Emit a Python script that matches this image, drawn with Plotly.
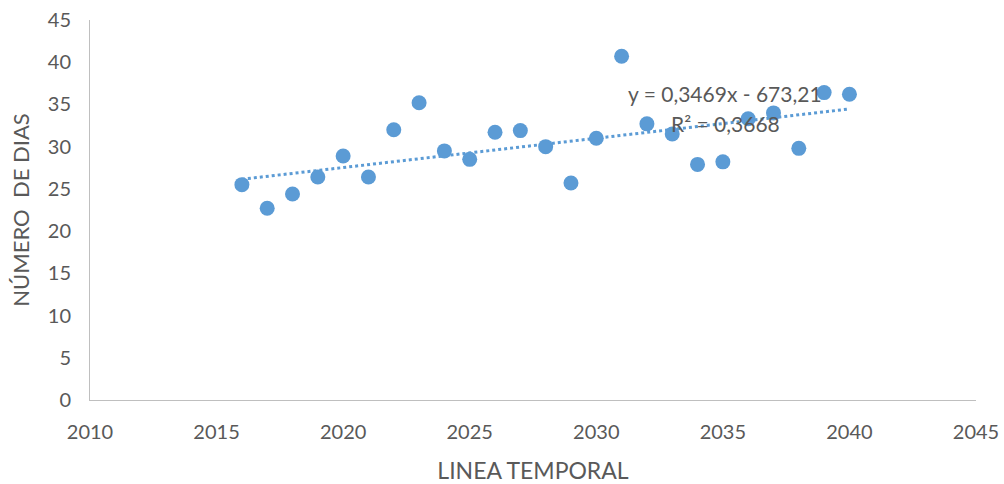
import plotly.graph_objects as go

# Annual values
years = [2016, 2017, 2018, 2019, 2020, 2021, 2022, 2023, 2024, 2025, 2026, 2027, 2028,
         2029, 2030, 2031, 2032, 2033, 2034, 2035, 2036, 2037, 2038, 2039, 2040]
dias = [25.5, 22.7, 24.4, 26.4, 28.9, 26.4, 32.0, 35.2, 29.5, 28.5, 31.7, 31.9, 30.0,
        25.7, 31.0, 40.7, 32.7, 31.5, 27.9, 28.2, 33.3, 34.0, 29.8, 36.4, 36.2]

# Linear trend coefficients
slope = 0.3469
intercept = -673.21
r2 = 0.3668

x_ticks = [2010, 2015, 2020, 2025, 2030, 2035, 2040, 2045]
y_ticks = [0, 5, 10, 15, 20, 25, 30, 35, 40, 45]

BLUE = "#5B9BD5"
TEXT = "#595959"
FONT = "Lato"

trend_x = [years[0], years[-1]]
trend_y = [slope * x + intercept for x in trend_x]

fig = go.Figure()
fig.add_trace(go.Scatter(
    x=trend_x, y=trend_y, mode="lines",
    line=dict(color=BLUE, width=3, dash="dot"),
    hoverinfo="skip", showlegend=False,
))
fig.add_trace(go.Scatter(
    x=years, y=dias, mode="markers",
    marker=dict(color=BLUE, size=15, line=dict(width=0)),
    showlegend=False,
))

eq_text = "y = {}x - {}".format(str(slope).replace(".", ","), str(-intercept).replace(".", ","))
r2_text = "R² = {}".format(str(r2).replace(".", ","))
fig.add_annotation(x=2035.1, y=36.3, text=eq_text, showarrow=False,
                   font=dict(family=FONT, size=21, color=TEXT))
fig.add_annotation(x=2035.1, y=32.8, text=r2_text, showarrow=False,
                   font=dict(family=FONT, size=21, color=TEXT))

fig.update_layout(
    width=1004, height=484,
    margin=dict(l=90, r=28, t=20, b=84),
    paper_bgcolor="white", plot_bgcolor="white",
    font=dict(family=FONT, color=TEXT, size=20),
    xaxis=dict(
        range=[2010, 2045], tickvals=x_ticks, showgrid=False, zeroline=False,
        showline=True, linecolor="#BFBFBF", linewidth=1, ticks="",
        tickfont=dict(size=20, color=TEXT), ticklabelstandoff=14, automargin=False,
        title=dict(text="LINEA TEMPORAL", font=dict(size=23, color=TEXT), standoff=20),
    ),
    yaxis=dict(
        range=[0, 45], tickvals=y_ticks, showgrid=False, zeroline=False,
        showline=True, linecolor="#BFBFBF", linewidth=1, ticks="",
        tickfont=dict(size=20, color=TEXT), ticklabelstandoff=14, automargin=False,
        title=dict(text="NÚMERO  DE DIAS", font=dict(size=22, color=TEXT), standoff=12),
    ),
)

fig.write_html("out.html")
